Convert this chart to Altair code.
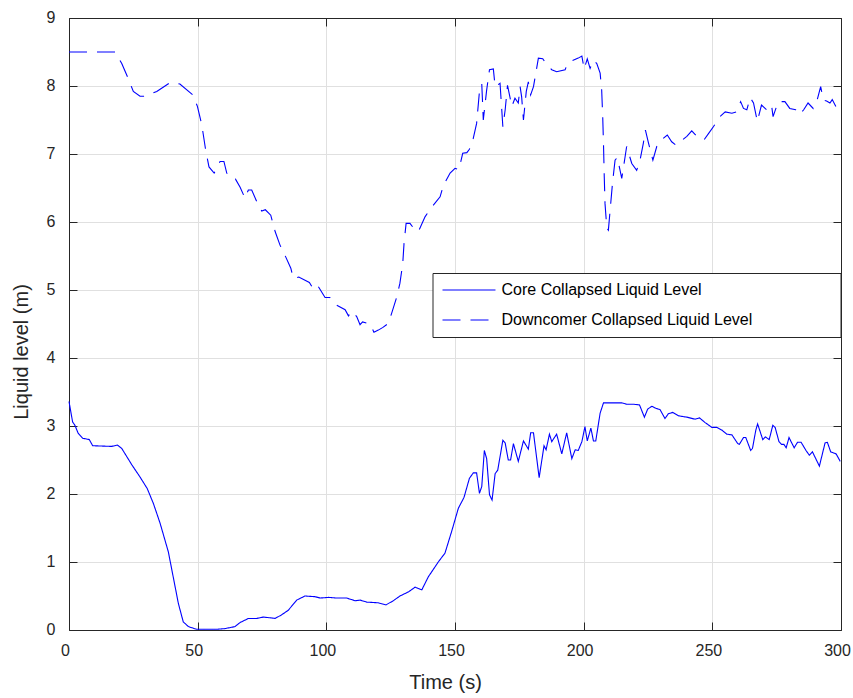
import altair as alt
import pandas as pd

# ---------------- data ----------------
series_names = ["Core Collapsed Liquid Level", "Downcomer Collapsed Liquid Level"]

core_t = [0, 1.4, 2.3, 3.6, 5.3, 7.9, 9.2, 16.6, 18.8, 20.5, 24.4, 27.6, 30.4, 32.8,
          35.4, 38.6, 40.5, 42.5, 44.4, 46.4, 49.6, 57.4, 60.5, 64.5, 66.5, 69.7,
          72.9, 75.5, 78.0, 80.1, 82.5, 85.2, 88.5, 91.7, 95.6, 97.6, 100.8, 104.0,
          107.9, 111.2, 113.1, 115.7, 120.2, 123.2, 126.0, 128.6, 131.9, 134.5,
          137.1, 139.6, 143.5, 146.1, 148.7, 151.3, 153.5, 155.6, 157.1, 158.4,
          159.5, 160.4, 161.4, 162.3, 163.4, 164.4, 165.6, 166.6, 168.6, 169.5,
          170.7, 171.6, 172.7, 174.6, 176.6, 178.5, 179.4, 180.5, 182.7, 184.6,
          185.4, 186.7, 187.6, 189.5, 191.5, 193.4, 195.4, 196.7, 197.9, 199.3,
          200.5, 201.4, 202.8, 203.8, 204.7, 206.4, 207.7, 214.8, 216.7, 219.3,
          221.7, 223.6, 224.9, 226.5, 228.1, 229.7, 231.6, 232.9, 234.6, 236.8,
          240.1, 243.3, 245.0, 247.2, 249.8, 251.7, 253.7, 255.6, 257.6, 259.9,
          260.5, 262.1, 263.0, 264.9, 265.6, 266.9, 267.6, 269.6, 270.6, 272.1,
          273.5, 274.4, 275.9, 276.9, 277.8, 278.7, 279.8, 281.8, 283.1, 284.5,
          286.4, 287.7, 288.9, 291.6, 293.8, 294.7, 296.0, 298.1, 299.7]
core_v = [3.36, 3.06, 3.01, 2.89, 2.82, 2.80, 2.71, 2.70, 2.72, 2.67, 2.43, 2.25, 2.08, 1.86,
          1.57, 1.15, 0.78, 0.39, 0.12, 0.05, 0.01, 0.01, 0.02, 0.05, 0.11, 0.17,
          0.17, 0.19, 0.18, 0.17, 0.22, 0.29, 0.44, 0.50, 0.49, 0.47, 0.48, 0.47,
          0.47, 0.43, 0.44, 0.41, 0.40, 0.37, 0.43, 0.50, 0.56, 0.63,
          0.59, 0.78, 1.00, 1.13, 1.45, 1.79, 1.95, 2.23, 2.31, 2.31,
          2.01, 2.11, 2.64, 2.52, 1.99, 1.91, 2.30, 2.35, 2.79, 2.75,
          2.50, 2.50, 2.74, 2.48, 2.78, 2.66, 2.90, 2.90, 2.24, 2.71,
          2.65, 2.88, 2.77, 2.88, 2.59, 2.90, 2.52, 2.65, 2.64, 2.77,
          2.99, 2.78, 2.97, 2.78, 2.78, 3.19, 3.34, 3.34, 3.32, 3.32,
          3.31, 3.13, 3.25, 3.29, 3.26, 3.24, 3.11, 3.18, 3.20, 3.15,
          3.13, 3.10, 3.12, 3.05, 2.98, 2.98, 2.94, 2.88, 2.87, 2.74,
          2.73, 2.83, 2.83, 2.64, 2.67, 2.94, 3.03, 2.80, 2.84, 2.80,
          3.01, 2.98, 2.77, 2.73, 2.73, 2.68, 2.83, 2.68, 2.76, 2.76,
          2.64, 2.57, 2.62, 2.41, 2.75, 2.76, 2.62, 2.59, 2.48]

down_t = [0, 18.0, 20.5, 23.0, 25.0, 27.6, 29.5, 34.1, 39.3, 43.1, 48.1, 49.9, 51.6, 53.1,
          54.4, 56.4, 58.7, 60.2, 61.3, 63.9, 64.7, 66.5, 68.4, 69.7, 71.0, 73.2,
          74.9, 76.3, 78.4, 80.1, 82.0, 84.3, 86.2, 87.2, 89.3, 93.4, 95.2, 96.9,
          99.5, 101.4, 103.4, 107.3, 108.6, 109.9, 111.8, 113.1, 114.1, 117.0,
          118.5, 120.2, 122.0, 124.1, 125.4, 127.4, 128.6, 129.7, 130.2, 131.0,
          132.5, 134.5, 135.8, 138.4, 141.0, 144.2, 145.5, 148.1, 150.0, 151.5,
          153.0, 154.6, 155.6, 157.1, 158.4, 159.5, 160.4, 161.0, 162.3, 163.4,
          164.9, 165.6, 167.5, 168.6, 169.5, 170.4, 172.1, 173.3, 174.6, 175.3,
          175.9, 176.6, 177.7, 178.5, 179.4, 180.5, 181.5, 182.4, 184.1, 185.7,
          187.6, 189.5, 192.8, 193.7, 195.4, 197.9, 199.3, 200.2, 201.4, 202.5,
          203.8, 205.1, 206.4, 207.0, 207.4, 207.7, 208.0, 208.3, 209.0, 209.6,
          210.3, 211.2, 212.2, 213.1, 214.8, 216.1, 216.7, 218.7, 220.6, 221.9,
          223.2, 224.0, 225.2, 226.9, 228.4, 230.3, 232.5, 234.2, 235.9, 240.1,
          242.0, 244.0, 246.8, 248.5, 250.4, 253.0, 255.0, 257.6, 259.5, 261.0,
          262.1, 263.4, 264.7, 266.0, 267.5, 269.1, 271.1, 273.0, 273.6, 275.6,
          278.2, 280.1, 282.4, 284.0, 285.5, 287.2, 289.2, 290.7, 292.1, 293.2,
          294.4, 295.7, 296.6, 298.0]
down_v = [8.50, 8.50, 8.33, 8.11, 7.92, 7.85, 7.85, 7.92, 8.05, 8.03, 7.87, 7.70, 7.43, 7.06,
          6.81, 6.72, 6.89, 6.89, 6.72, 6.63, 6.63, 6.51, 6.35, 6.47, 6.47, 6.28,
          6.16, 6.18, 6.10, 5.86, 5.66, 5.48, 5.32, 5.17, 5.19, 5.11, 5.00, 5.05,
          4.89, 4.89, 4.79, 4.71, 4.62, 4.69, 4.61, 4.49, 4.53, 4.50,
          4.38, 4.41, 4.45, 4.51, 4.66, 4.90, 5.10, 5.39, 5.69, 5.98,
          5.98, 5.88, 5.86, 6.08, 6.22, 6.37, 6.54, 6.72, 6.79, 6.77,
          7.01, 7.02, 7.07, 7.23, 7.45, 7.92, 8.03, 7.50, 7.94, 8.24,
          8.25, 7.99, 8.04, 7.40, 7.65, 8.01, 7.70, 7.82, 7.75, 7.99,
          7.84, 7.50, 7.92, 8.06, 7.87, 7.99, 8.21, 8.41, 8.40, 8.31,
          8.24, 8.21, 8.24, 8.33, 8.37, 8.41, 8.44, 8.25, 8.40, 8.26,
          8.38, 8.33, 8.19, 7.94, 7.55, 7.16, 6.67, 6.27, 5.91, 5.88,
          6.18, 6.57, 6.91, 6.95, 6.64, 6.96, 7.11, 6.86, 6.76, 6.91,
          7.16, 7.35, 7.16, 6.91, 7.11, 7.21, 7.28, 7.18, 7.13, 7.26,
          7.34, 7.26, 7.21, 7.30, 7.40, 7.55, 7.62, 7.60, 7.62, 7.77,
          7.67, 7.65, 7.83, 7.75, 7.48, 7.72, 7.65, 7.72, 7.55, 7.77,
          7.77, 7.67, 7.65, 7.58, 7.65, 7.75, 7.67, 7.79, 7.99, 7.79,
          7.78, 7.75, 7.80, 7.70]

x_ticks = [0, 50, 100, 150, 200, 250, 300]
y_ticks = [0, 1, 2, 3, 4, 5, 6, 7, 8, 9]

df = pd.concat([
    pd.DataFrame({"t": core_t, "v": core_v, "series": series_names[0]}),
    pd.DataFrame({"t": down_t, "v": down_v, "series": series_names[1]}),
], ignore_index=True)

# ---------------- styling ----------------
W, H = 772, 612
FONT = "Liberation Sans"
AX = "#262626"
GRID = "#e0e0e0"
BLUE = "#0000ff"

xs = alt.Scale(domain=[0, 300], nice=False, zero=False)
ys = alt.Scale(domain=[0, 9], nice=False, zero=False)

legend = alt.Legend(
    title="\u00a0", titleOrient="right", titlePadding=79, titleFontSize=10,
    orient="none", legendX=363.5, legendY=255,
    symbolType="M-1,0H6.57", symbolSize=196, symbolStrokeColor=BLUE,
    symbolStrokeWidth=1.2, symbolFillColor="transparent",
    labelFont=FONT, labelFontSize=16, labelColor="#000000", labelOffset=44,
    labelLimit=400, rowPadding=14, padding=9,
    strokeColor=AX, fillColor="white", cornerRadius=0)

base = alt.Chart(df)

main = base.mark_line(strokeWidth=1.1).encode(
    x=alt.X("t:Q", scale=xs, axis=alt.Axis(
        orient="bottom", values=x_ticks, title="Time (s)", grid=True, gridColor=GRID,
        ticks=False, tickSize=0, domain=True, domainColor=AX, domainWidth=1,
        labelFont=FONT, labelFontSize=16, labelColor=AX, labelPadding=12,
        labelOffset=-4, labelFlush=False,
        titleFont=FONT, titleFontSize=20, titleFontWeight="normal", titleColor=AX,
        titleX=376, titleY=58.5, titleBaseline="alphabetic")),
    y=alt.Y("v:Q", scale=ys, axis=alt.Axis(
        orient="left", values=y_ticks, title="Liquid level (m)", grid=True, gridColor=GRID,
        ticks=False, tickSize=0, domain=True, domainColor=AX, domainWidth=1,
        labelFont=FONT, labelFontSize=16, labelColor=AX, labelPadding=14,
        labelOffset=-1, labelFlush=False,
        titleFont=FONT, titleFontSize=20, titleFontWeight="normal", titleColor=AX,
        titleX=-41.5, titleY=333.5, titleAngle=270, titleBaseline="alphabetic")),
    color=alt.Color("series:N", scale=alt.Scale(
        domain=series_names, range=[BLUE, BLUE]), legend=legend),
    strokeDash=alt.StrokeDash("series:N", scale=alt.Scale(
        domain=series_names, range=[[1, 0], [18, 10]]), legend=legend),
)

# inward ticks on the bottom (top-oriented axis moved down) and on the left
ticks_in_a = base.mark_line(opacity=0).encode(
    x=alt.X("t:Q", scale=xs, axis=alt.Axis(
        orient="top", offset=-H, values=x_ticks, labels=False, ticks=True, tickSize=8,
        tickColor=AX, domain=False, grid=False, title=None)),
    y=alt.Y("v:Q", scale=ys, axis=alt.Axis(
        orient="right", offset=-W, values=y_ticks, labels=False, ticks=True, tickSize=8,
        tickColor=AX, domain=False, grid=False, title=None)),
    detail="series:N",
)

# top and right frame with inward ticks
ticks_in_b = base.mark_line(opacity=0).encode(
    x=alt.X("t:Q", scale=xs, axis=alt.Axis(
        orient="bottom", offset=-H, values=x_ticks, labels=False, ticks=True, tickSize=8,
        tickColor=AX, domain=True, domainColor=AX, grid=False, title=None)),
    y=alt.Y("v:Q", scale=ys, axis=alt.Axis(
        orient="left", offset=-W, values=y_ticks, labels=False, ticks=True, tickSize=8,
        tickColor=AX, domain=True, domainColor=AX, grid=False, title=None)),
    detail="series:N",
)

chart = alt.layer(main, ticks_in_a, ticks_in_b).resolve_axis(
    x="independent", y="independent"
).properties(
    width=W, height=H,
    autosize=alt.AutoSizeParams(type="none"),
    padding={"left": 69, "top": 18, "right": 12, "bottom": 68},
    background="white",
).configure_view(stroke=None)

chart.save("out.html", embed_options={"renderer": "svg", "actions": False})
